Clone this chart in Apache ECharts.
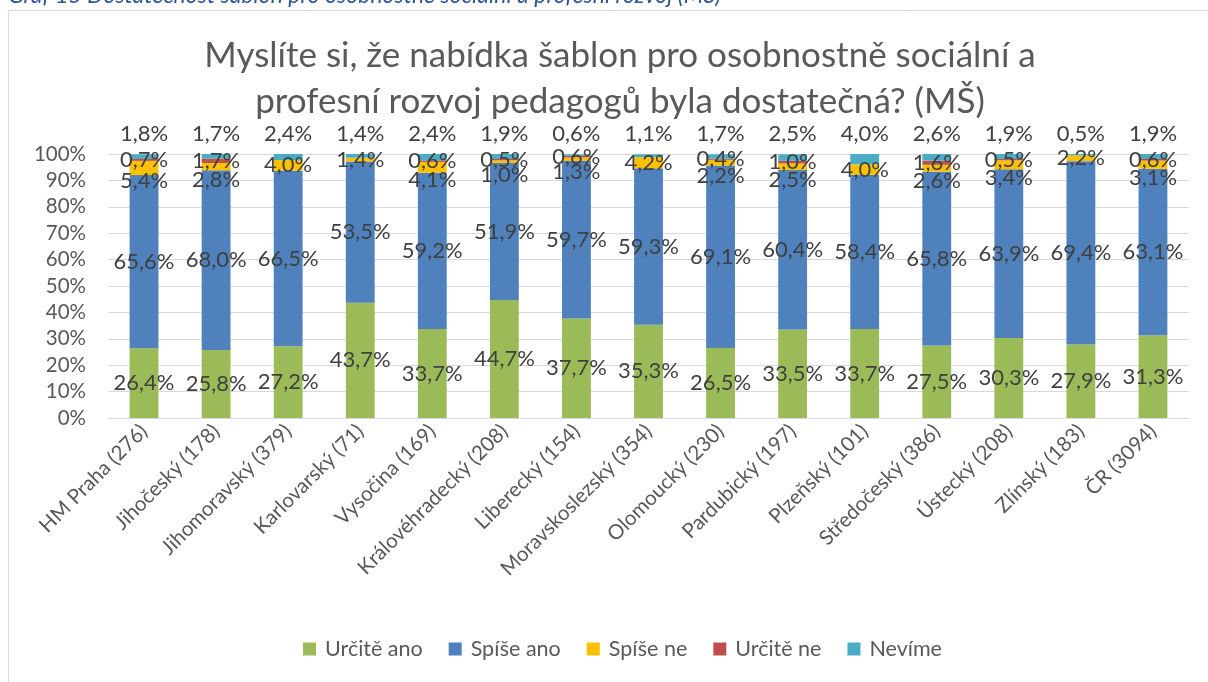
<!DOCTYPE html>
<html style="height:100%;width:100%;">
<head>
  <meta charset="utf-8">
  <title>Šablony MŠ</title>
  <script src="https://cdn.jsdelivr.net/npm/echarts@6/dist/echarts.min.js"></script>
</head>
<body style="margin:0px;height:100%;width:100%;background:#fff;">
  <div id="main" style="width:1208px;height:682px"></div>
  <script type="text/javascript">
    // data
    var kraje = ['HM Praha (276)', 'Jihočeský (178)', 'Jihomoravský (379)', 'Karlovarský (71)', 'Vysočina (169)',
      'Královéhradecký (208)', 'Liberecký (154)', 'Moravskoslezský (354)', 'Olomoucký (230)', 'Pardubický (197)',
      'Plzeňský (101)', 'Středočeský (386)', 'Ústecký (208)', 'Zlínský (183)', 'ČR (3094)'];
    var urciteAno = [26.4, 25.8, 27.2, 43.7, 33.7, 44.7, 37.7, 35.3, 26.5, 33.5, 33.7, 27.5, 30.3, 27.9, 31.3];
    var spiseAno  = [65.6, 68.0, 66.5, 53.5, 59.2, 51.9, 59.7, 59.3, 69.1, 60.4, 58.4, 65.8, 63.9, 69.4, 63.1];
    var spiseNe   = [5.4, 2.8, 4.0, 1.4, 4.1, 1.0, 1.3, 4.2, 2.2, 2.5, 4.0, 2.6, 3.4, 2.2, 3.1];
    var urciteNe  = [0.7, 1.7, 0, 0, 0.6, 0.5, 0.6, 0, 0.4, 1.0, 0, 1.6, 0.5, 0, 0.6];
    var nevime    = [1.8, 1.7, 2.4, 1.4, 2.4, 1.9, 0.6, 1.1, 1.7, 2.5, 4.0, 2.6, 1.9, 0.5, 1.9];
    var yTicks = [0, 10, 20, 30, 40, 50, 60, 70, 80, 90, 100];

    var FONT = 'Lato';
    var myChart = echarts.init(document.getElementById('main'));

    function fmt(p) {
      var v = Array.isArray(p.value) ? p.value[1] : p.value;
      if (!v) return '';
      return v.toFixed(1).replace('.', ',') + '%';
    }

    var lbl = { show: true, position: 'inside', color: '#404040', fontFamily: FONT, fontSize: 22, formatter: fmt };

    // "Spíše ne" label moves down when a "Určitě ne" segment sits above it
    var spiseNeData = spiseNe.map(function(v, i) {
      return urciteNe[i] ? { value: v, label: { offset: [0, 13] } } : v;
    });

    function mk(name, data, color, label) {
      return {
        name: name, type: 'bar', stack: 'a', barWidth: '40%',
        itemStyle: { color: color },
        label: label || lbl,
        data: data
      };
    }

    option = {
      animation: false,
      backgroundColor: '#fff',
      title: {
        text: 'Myslíte si, že nabídka šablon pro osobnostně sociální a\nprofesní rozvoj pedagogů byla dostatečná? (MŠ)',
        left: 615, textAlign: 'center', top: 28,
        textStyle: { fontFamily: FONT, fontSize: 35, fontWeight: 'normal', color: '#595959', lineHeight: 46 }
      },
      graphic: [
        { type: 'rect', shape: { x: 8.5, y: 10.5, width: 1230, height: 700 }, style: { fill: 'none', stroke: '#D9D9D9', lineWidth: 1 } },
        { type: 'text', x: 8, y: -4, style: { text: 'Graf 15 Dostatečnost šablon pro osobnostně sociální a profesní rozvoj (MŠ)', fill: '#2F5496', fontFamily: FONT, fontStyle: 'italic', fontSize: 23, verticalAlign: 'middle' } }
      ],
      legend: {
        bottom: 17, left: 298,
        itemWidth: 13, itemHeight: 13, itemGap: 26,
        icon: 'rect',
        textStyle: { fontFamily: FONT, fontSize: 21.5, color: '#595959', padding: [0, 0, 0, 4] },
        data: ['Určitě ano', 'Spíše ano', 'Spíše ne', 'Určitě ne', 'Nevíme']
      },
      grid: { left: 108, right: 19, top: 154, bottom: 264, containLabel: false },
      xAxis: {
        type: 'category', data: kraje,
        axisLine: { lineStyle: { color: '#D9D9D9' } },
        axisTick: { show: false },
        axisLabel: { interval: 0, rotate: 45, margin: 10, fontFamily: FONT, fontSize: 20.5, color: '#595959' }
      },
      yAxis: {
        type: 'value', min: yTicks[0], max: yTicks[yTicks.length - 1], interval: 10,
        axisLine: { show: false }, axisTick: { show: false },
        splitLine: { lineStyle: { color: '#D9D9D9' } },
        axisLabel: { margin: 22, fontFamily: FONT, fontSize: 20.5, color: '#595959', formatter: '{value}%' }
      },
      series: [
        mk('Určitě ano', urciteAno, '#9BBB59'),
        mk('Spíše ano', spiseAno, '#4F81BD'),
        mk('Spíše ne', spiseNeData, '#FFC000'),
        mk('Určitě ne', urciteNe, '#C0504D'),
        mk('Nevíme', nevime, '#4BACC6', { show: true, position: 'top', distance: 9, color: '#404040', fontFamily: FONT, fontSize: 22, formatter: fmt })
      ]
    };

    myChart.setOption(option);
  </script>
</body>
</html>
